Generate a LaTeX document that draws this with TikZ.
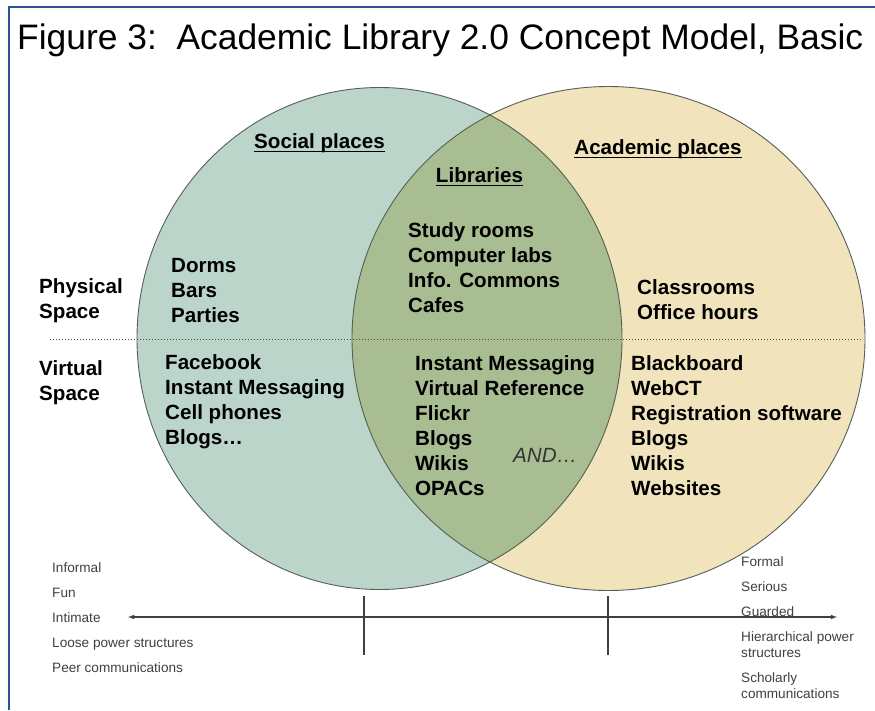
\documentclass[tikz,border=0pt]{standalone}
\usepackage{fontspec}
\setmainfont{Liberation Sans}
\usepackage{xcolor}
\definecolor{socialgreen}{RGB}{188,213,202}
\definecolor{librarygreen}{RGB}{168,189,145}
\definecolor{academictan}{RGB}{241,227,187}
\definecolor{circleline}{RGB}{85,95,85}
\definecolor{frameblue}{RGB}{46,84,150}
\usepackage{tikz}
\usetikzlibrary{arrows,positioning,calc}

\newcommand{\headrule}[1]{\setbox0\hbox{#1}\leavevmode\rlap{\rule[-4pt]{\wd0}{1.6pt}}\box0}

\begin{document}
\begin{tikzpicture}[
    x=1pt, y=-1pt,
    figtitle/.style={anchor=base west, inner sep=0, font=\fontsize{35.4}{40}\selectfont},
    heading/.style={anchor=base, inner sep=0, font=\fontsize{20.6}{25}\selectfont\bfseries},
    itemlist/.style={anchor=north west, inner sep=0, align=left, font=\fontsize{20.6}{25}\selectfont\bfseries},
    scalelabel/.style={anchor=north west, inner sep=0, align=left, text=black!75, font=\fontsize{13.6}{25}\selectfont},
    scalearrow/.style={<->, >=latex, line width=1.1pt, black!75},
    axistick/.style={line width=1.1pt, black!75},
    divider/.style={black!70, thick, dash pattern=on 1.2pt off 1.8pt}
]
\useasboundingbox (0,0) rectangle (875,710);

% Frame
\coordinate (fbl) at (9,710);
\coordinate (ftl) at (9,7);
\coordinate (ftr) at (875,7);
\draw[frameblue, line width=2.6pt] (fbl) -- (ftl) -- (ftr);

% Title
\node[figtitle] (title) at (17,49) {Figure 3:\ \ Academic Library 2.0 Concept Model, Basic};

% Circles
\fill[socialgreen] (379.5,338.5) ellipse [x radius=242.5, y radius=251];
\fill[academictan] (608.5,338.5) ellipse [x radius=256.5, y radius=252];
\begin{scope}
  \clip (379.5,338.5) ellipse [x radius=242.5, y radius=251];
  \fill[librarygreen] (608.5,338.5) ellipse [x radius=256.5, y radius=252];
\end{scope}
\draw[circleline, line width=0.9pt] (379.5,338.5) ellipse [x radius=242.5, y radius=251];
\draw[circleline, line width=0.9pt] (608.5,338.5) ellipse [x radius=256.5, y radius=252];

% Physical / virtual divider
\coordinate (divl) at (50,339);
\coordinate (divr) at (863,339);
\draw[divider] (divl) -- (divr);

% Headings
\node[heading] (social) at (319.5,148.4) {\headrule{Social places}};
\node[heading] (libraries) at (479.5,182.4) {\headrule{Libraries}};
\node[heading] (academic) at (658,154.4) {\headrule{Academic places}};

% Row labels
\node[itemlist] (physical) at (39,278.6) {Physical\\Space};
\node[itemlist] (virtual) at (39,360.6) {Virtual\\Space};

% Social places
\node[itemlist] (socphys) at (171,258.6) {Dorms\\Bars\\Parties};
\node[itemlist] (socvirt) at (165,354.6) {Facebook\\Instant Messaging\\Cell phones\\Blogs…};

% Libraries
\node[itemlist] (libphys) at (408,222.6) {Study rooms\\Computer labs\\Info. Commons\\Cafes};
\node[itemlist] (libvirt) at (415,355.6) {Instant Messaging\\Virtual Reference\\Flickr\\Blogs\\Wikis\\OPACs};
\node[anchor=base west, inner sep=0, text=black!80, font=\fontsize{20.6}{25}\selectfont\itshape] (and) at (513,462.4) {AND…};

% Academic places
\node[itemlist] (acaphys) at (637,279.6) {Classrooms\\Office hours};
\node[itemlist] (acavirt) at (631,355.6) {Blackboard\\WebCT\\Registration software\\Blogs\\Wikis\\Websites};

% Scale
\node[scalelabel] (informal) at (52,562) {Informal\\Fun\\Intimate\\Loose power structures\\Peer communications};
\node[scalelabel, font=\fontsize{13.6}{16}\selectfont] (formal) at (741,556) {Formal\\[9pt]Serious\\[9pt]Guarded\\[9pt]Hierarchical power\\structures\\[9pt]Scholarly\\communications};
\coordinate (scl) at (128,617);
\coordinate (scr) at (837,617);
\draw[scalearrow] (scl) -- (scr);
\coordinate (tick1t) at (364,596);
\coordinate (tick1b) at (364,655);
\coordinate (tick2t) at (608,596);
\coordinate (tick2b) at (608,655);
\draw[axistick] (tick1t) -- (tick1b);
\draw[axistick] (tick2t) -- (tick2b);
\end{tikzpicture}
\end{document}
